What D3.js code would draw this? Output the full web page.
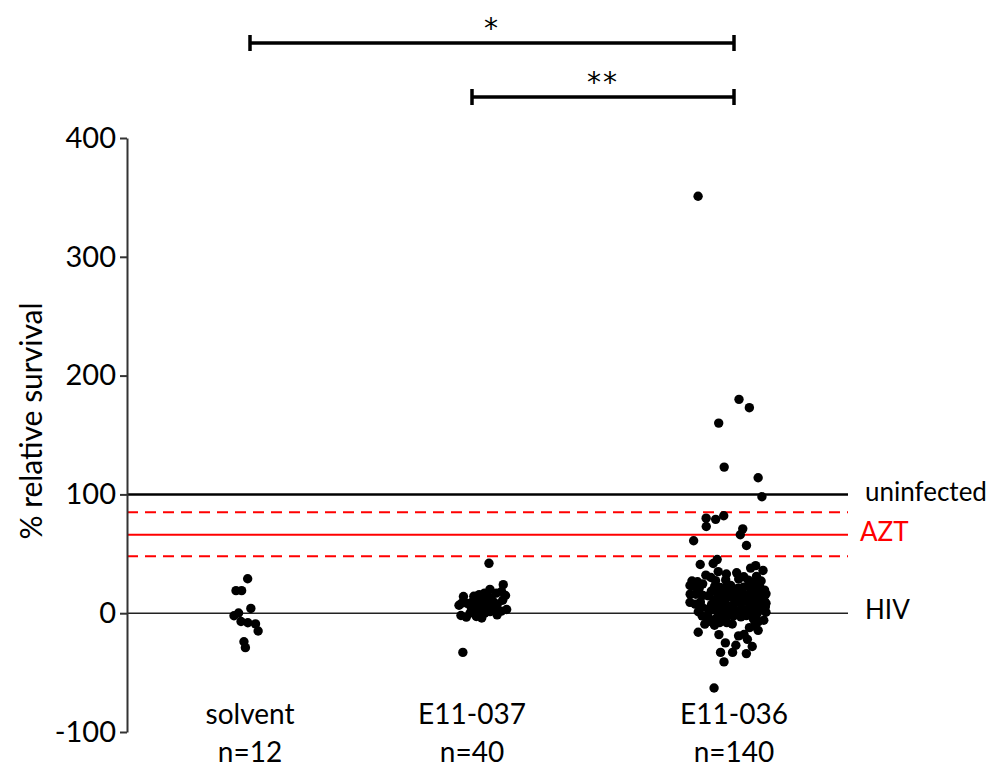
<!DOCTYPE html>
<html>
<head>
<meta charset="utf-8">
<script src="https://cdn.jsdelivr.net/npm/d3@7"></script>
<style>
  body { margin: 0; background: #fff; }
  svg { font-family: Lato, "Noto Sans", sans-serif; }
</style>
</head>
<body>
<svg id="chart" width="994" height="770"></svg>
<script>
// groups and their n labels
var categories = ["solvent", "E11-037", "E11-036"];
var nLabels = ["n=12", "n=40", "n=140"];

// % relative survival
var solvent = [29, 19, 19, 4, 0, -2, -7, -8, -9, -15, -24, -29];
var e11_037 = [42, 24, 20, 18, 17, 16, 15, 14, 14, 13, 12, 12, 11, 11, 10, 10, 9, 9, 8, 8,
  7, 7, 6, 6, 5, 5, 4, 4, 3, 3, 2, 2, 1, 0, -1, -2, -3, -4, -2, -33];
var e11_036 = [351, 180, 173, 160, 123, 114, 98, 82, 80, 79, 73, 71, 66, 61, 57,
  45, 42, 41, 40, 38, 36, 35, 34, 33, 32,
  31, 30, 29, 28, 28, 27, 26, 26, 25, 25,
  24, 24, 23, 23, 22, 22, 21, 21, 20, 20,
  20, 19, 19, 18, 18, 18, 17, 17, 16, 16,
  16, 15, 15, 15, 14, 14, 14, 13, 13, 12,
  12, 12, 11, 11, 10, 10, 10, 9, 9, 8,
  8, 8, 7, 7, 6, 6, 6, 5, 5, 5,
  4, 4, 3, 3, 3, 2, 2, 1, 1, 0,
  0, -1, -1, -2, -2, -3, -3, -4, -5, -5,
  -6, -7, -7, -8, 30, 27, 22, 17, 13, 9,
  4, 1, -2, -6, 19, 11,
  -63, -41, -34, -33, -33, -28, -27, -25, -22, -19, -18, -18, -16, -14, -12, -11, -10, -9, -9];
var seriesValues = [solvent, e11_037, e11_036];

var yTicks = [-100, 0, 100, 200, 300, 400];

// reference levels
var refLines = [
  { name: "uninfected", value: 100 },
  { name: "AZT", value: 66 },
  { name: "AZT+", value: 85 },
  { name: "AZT-", value: 48 },
  { name: "HIV", value: 0 }
];

// significance brackets
var brackets = [
  { from: "solvent", to: "E11-036", label: "*" },
  { from: "E11-037", to: "E11-036", label: "**" }
];

var svg = d3.select("#chart");
var axisX = 127;
var lineEnd = 848;

var y = d3.scaleLinear().domain([-100, 400]).range([732, 138]);
var x = d3.scaleOrdinal().domain(categories).range([250, 472, 734]);
var swarmCenter = d3.scaleOrdinal().domain(categories).range([248, 483, 728]);
var swarmHalf = d3.scaleOrdinal().domain(categories).range([12, 22, 36]);

// reference lines
var refStyle = {
  "uninfected": { color: "#000", width: 2.5, dash: null },
  "AZT": { color: "#f00", width: 2, dash: null },
  "AZT+": { color: "#f00", width: 2, dash: "11,7" },
  "AZT-": { color: "#f00", width: 2, dash: "11,7" },
  "HIV": { color: "#222", width: 1.6, dash: null }
};
svg.append("g").selectAll("line")
  .data(refLines)
  .join("line")
  .attr("x1", axisX)
  .attr("x2", lineEnd)
  .attr("y1", d => y(d.value))
  .attr("y2", d => y(d.value))
  .attr("stroke", d => refStyle[d.name].color)
  .attr("stroke-width", d => refStyle[d.name].width)
  .attr("stroke-dasharray", d => refStyle[d.name].dash);

svg.append("g").selectAll("text")
  .data(refLines.filter(d => refStyle[d.name].dash == null))
  .join("text")
  .attr("x", d => d.name == "AZT" ? 860 : 865)
  .attr("y", d => y(d.value) - 3)
  .attr("dy", "0.35em")
  .attr("font-size", 26)
  .attr("fill", d => d.name == "AZT" ? "#f00" : "#000")
  .text(d => d.name);

// y axis
var yAxis = svg.append("g")
  .attr("transform", `translate(${axisX},0)`)
  .call(d3.axisLeft(y).tickValues(yTicks).tickFormat(d => String(d))
    .tickSize(7).tickPadding(4).tickSizeOuter(0));
yAxis.select(".domain").attr("stroke", "#333").attr("stroke-width", 2);
yAxis.selectAll(".tick line").attr("stroke", "#333").attr("stroke-width", 2);
yAxis.selectAll(".tick text").attr("font-size", 29).attr("fill", "#000")
  .attr("font-family", "Lato, 'Noto Sans', sans-serif");

svg.append("text")
  .attr("transform", "translate(42,421) rotate(-90)")
  .attr("text-anchor", "middle")
  .attr("font-size", 30)
  .text("% relative survival");

// jittered dots, nudged apart a little
var rnd = d3.randomUniform.source(d3.randomLcg(0.37))(-1, 1);
var nodes = [];
categories.forEach(function (c, gi) {
  seriesValues[gi].forEach(function (v) {
    var jx = swarmCenter(c) + rnd() * swarmHalf(c);
    nodes.push({ cat: c, value: v, jx: jx, x: jx, y: y(v) });
  });
});
var sim = d3.forceSimulation(nodes)
  .force("x", d3.forceX(d => d.jx).strength(0.15))
  .force("y", d3.forceY(d => y(d.value)).strength(1))
  .force("collide", d3.forceCollide(2.8))
  .stop();
for (var t = 0; t < 200; t++) sim.tick();
nodes.forEach(function (d) {
  var c = swarmCenter(d.cat), h = swarmHalf(d.cat) + 2;
  d.x = Math.max(c - h, Math.min(c + h, d.x));
});

svg.append("g").selectAll("circle")
  .data(nodes)
  .join("circle")
  .attr("cx", d => d.x)
  .attr("cy", d => d.y)
  .attr("r", 4.7)
  .attr("fill", "#000");

// category labels
var labels = svg.append("g").attr("text-anchor", "middle").attr("font-size", 28);
labels.selectAll(".cat")
  .data(categories)
  .join("text")
  .attr("class", "cat")
  .attr("x", d => x(d))
  .attr("y", 724)
  .text(d => d);
labels.selectAll(".n")
  .data(categories)
  .join("text")
  .attr("class", "n")
  .attr("x", d => x(d))
  .attr("y", 762)
  .text((d, i) => nLabels[i]);

// brackets
var bracketY = [43, 97];
var bg = svg.append("g").selectAll("g")
  .data(brackets)
  .join("g");
bg.append("line")
  .attr("x1", d => x(d.from)).attr("x2", d => x(d.to))
  .attr("y1", (d, i) => bracketY[i]).attr("y2", (d, i) => bracketY[i])
  .attr("stroke", "#000").attr("stroke-width", 3.5);
bg.append("line")
  .attr("x1", d => x(d.from)).attr("x2", d => x(d.from))
  .attr("y1", (d, i) => bracketY[i] - 8).attr("y2", (d, i) => bracketY[i] + 8)
  .attr("stroke", "#000").attr("stroke-width", 3.5);
bg.append("line")
  .attr("x1", d => x(d.to)).attr("x2", d => x(d.to))
  .attr("y1", (d, i) => bracketY[i] - 8).attr("y2", (d, i) => bracketY[i] + 8)
  .attr("stroke", "#000").attr("stroke-width", 3.5);
bg.append("text")
  .attr("x", d => (x(d.from) + x(d.to)) / 2)
  .attr("y", (d, i) => bracketY[i] - 5)
  .attr("text-anchor", "middle")
  .attr("font-family", "'DejaVu Sans', sans-serif")
  .attr("font-size", 28)
  .attr("letter-spacing", 2)
  .text(d => d.label);
</script>
</body>
</html>
